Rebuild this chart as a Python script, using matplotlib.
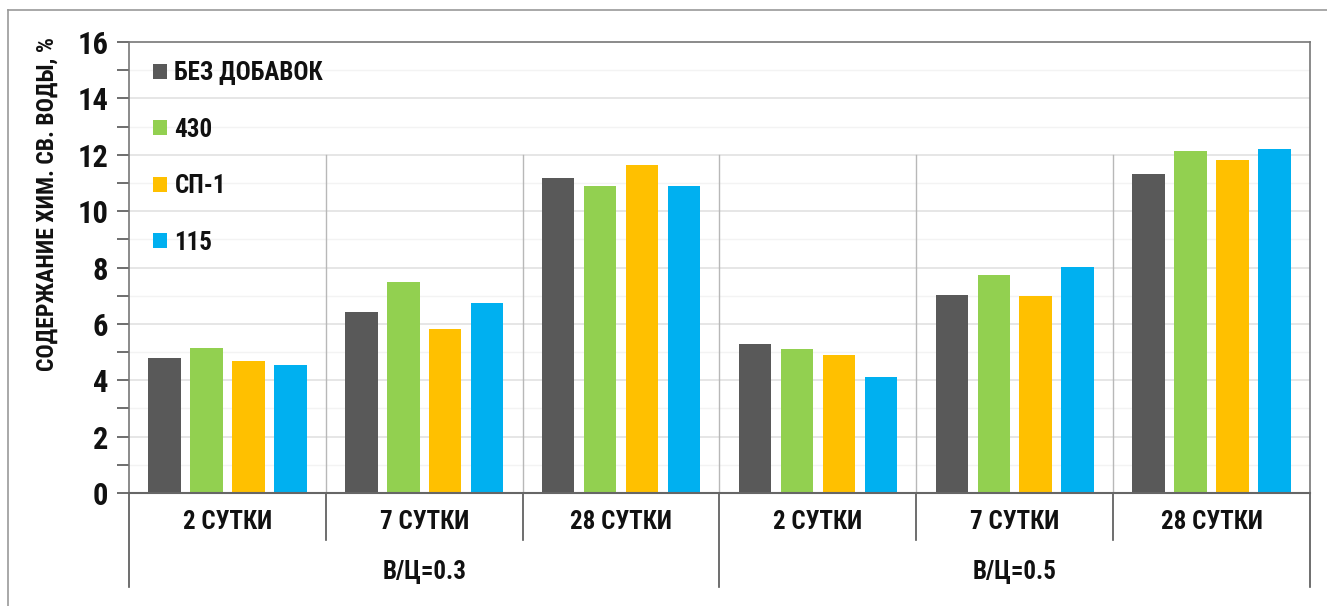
import matplotlib
matplotlib.use("Agg")
import matplotlib.pyplot as plt
import matplotlib.transforms as mtransforms
from matplotlib import font_manager
from matplotlib.lines import Line2D
import numpy as np

# narrowest available bold family
installed = {f.name for f in font_manager.fontManager.ttflist}
narrow = [n for n in ['Liberation Sans Narrow', 'Roboto Condensed', 'Open Sans Condensed',
                      'DejaVu Sans Condensed'] if n in installed]
plt.rcParams['font.family'] = narrow + ['DejaVu Sans']
plt.rcParams['font.stretch'] = 'condensed'
plt.rcParams['font.weight'] = 'bold'

# data
periods = ["2 СУТКИ", "7 СУТКИ", "28 СУТКИ", "2 СУТКИ", "7 СУТКИ", "28 СУТКИ"]
ratios = ["В/Ц=0.3", "В/Ц=0.5"]
series_names = ["БЕЗ ДОБАВОК", "430", "СП-1", "115"]
bez_dobavok = [4.80, 6.41, 11.19, 5.30, 7.02, 11.32]
s430 = [5.15, 7.50, 10.89, 5.12, 7.74, 12.14]
sp1 = [4.68, 5.81, 11.64, 4.91, 6.99, 11.81]
s115 = [4.54, 6.74, 10.88, 4.13, 8.02, 12.20]
colors = ["#595959", "#92D050", "#FFC000", "#00B0F0"]

values = [bez_dobavok, s430, sp1, s115]

fig = plt.figure(figsize=(13.27, 6.06), dpi=100)
ax = fig.add_axes([129 / 1327, 1 - 493 / 606, (1310 - 129) / 1327, (493 - 42) / 606])

x = np.arange(len(periods))
step = 0.213
width = 0.165
for i, (name, vals, c) in enumerate(zip(series_names, values, colors)):
    ax.bar(x + (i - 1.5) * step, vals, width, color=c, label=name, zorder=3)

ax.set_xlim(-0.5, len(periods) - 0.5)
ax.set_ylim(0, 16)
ax.set_yticks(np.arange(0, 17, 2))
ax.set_yticks(np.arange(1, 16, 2), minor=True)
ax.tick_params(axis='y', which='both', direction='out', length=9, width=1.2,
               color='#555555', labelsize=22, pad=6, labelcolor='#111111')
ax.set_xticks([])

# grid
for yv in np.arange(2, 16, 2):
    ax.axhline(yv, color='#e2e2e2', lw=1.2, zorder=1)
for yv in np.arange(1, 16, 2):
    ax.axhline(yv, color='#f3f3f3', lw=1, zorder=1)

# separators between periods inside the plot
for b in np.arange(0.5, len(periods) - 0.5, 1):
    ax.plot([b, b], [0, 12], color='#b8b8b8', lw=1, zorder=2)

for side in ['top', 'right', 'left']:
    ax.spines[side].set_color('#777777')
    ax.spines[side].set_linewidth(1.2)
ax.spines['bottom'].set_color('#666666')
ax.spines['bottom'].set_linewidth(1.5)
ax.spines['bottom'].set_zorder(4)

# category axis below the plot
trans = mtransforms.blended_transform_factory(ax.transData, ax.transAxes)
for b in np.arange(-0.5, len(periods), 1):
    outer = b in (-0.5, 2.5, 5.5)
    y_end = -0.208 if outer else -0.104
    ax.add_line(Line2D([b, b], [0, y_end], transform=trans, color='#555555',
                       lw=1.2, clip_on=False))
for xi, lab in zip(x, periods):
    ax.text(xi, -0.064, lab, transform=trans, ha='center', va='center',
            fontsize=18, color='#111111')
for k, lab in enumerate(ratios):
    ax.text(1 + 3 * k, -0.175, lab, transform=trans, ha='center', va='center',
            fontsize=18, color='#111111')

ax.text(-82 / 1181, 1.01, "СОДЕРЖАНИЕ ХИМ. СВ. ВОДЫ, %", transform=ax.transAxes,
        rotation=90, ha='center', va='top', fontsize=17, color='#111111')

leg = ax.legend(loc='upper left', bbox_to_anchor=(0.012, 0.98), frameon=False,
                fontsize=18, handlelength=0.55, handleheight=0.55,
                handletextpad=0.3, labelspacing=1.3, borderaxespad=0)
for t in leg.get_texts():
    t.set_color('#111111')

# outer frame
fig.add_artist(Line2D([8 / 1327, 1], [1 - 10 / 606] * 2, color='#999999', lw=1.2))
fig.add_artist(Line2D([8 / 1327] * 2, [0, 1 - 10 / 606], color='#999999', lw=1.2))

fig.savefig("out.png", dpi=100)
